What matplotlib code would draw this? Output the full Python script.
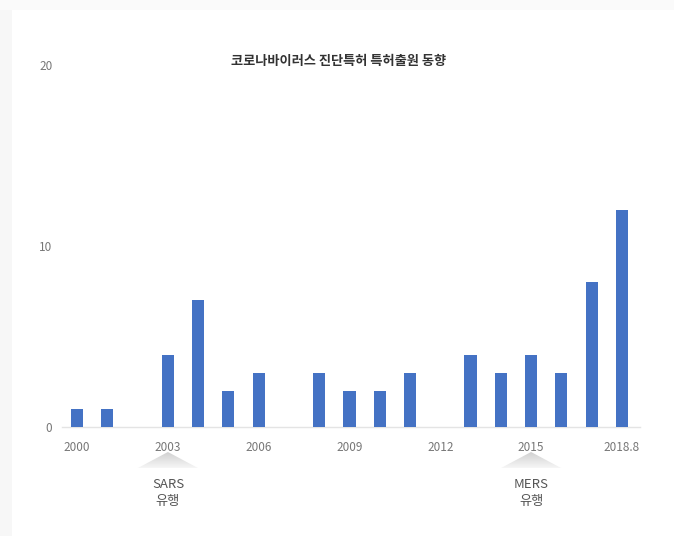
import matplotlib
matplotlib.use("Agg")
import matplotlib.pyplot as plt
import numpy as np
from matplotlib.patches import Rectangle

plt.rcParams["font.family"] = ["Noto Sans CJK KR", "DejaVu Sans"]

# data
years = list(range(2000, 2019))
counts = [1, 1, 0, 4, 7, 2, 3, 0, 3, 2, 2, 3, 0, 4, 3, 4, 3, 8, 12]
tick_years = [2000, 2003, 2006, 2009, 2012, 2015, 2018]
tick_labels = ["2000", "2003", "2006", "2009", "2012", "2015", "2018.8"]
events = [(2003, "SARS\n유행"), (2015, "MERS\n유행")]
title = "코로나바이러스 진단특허 특허출원 동향"

BAR = "#4472c4"
GREY = "#777777"

fig = plt.figure(figsize=(6.74, 5.36), dpi=100)
W, H = 674, 536

# faint page border (left and top)
fig.patches.append(Rectangle((0, 0), 12 / W, 1, transform=fig.transFigure,
                             facecolor="#f7f7f7", edgecolor="none", zorder=0))
fig.patches.append(Rectangle((0, 1 - 10 / H), 1, 10 / H, transform=fig.transFigure,
                             facecolor="#fafafa", edgecolor="none", zorder=0))

ax = fig.add_axes([62 / W, (H - 427) / H, 578 / W, 362 / H])
ax.bar(years, counts, width=0.4, color=BAR, zorder=3)

ax.set_xlim(1999.5, 2018.6)
ax.set_ylim(0, 20)
ax.set_yticks([0, 10, 20])
ax.set_yticklabels(["0", "10", "20"])
ax.set_xticks(tick_years)
ax.set_xticklabels(tick_labels)
ax.tick_params(axis="both", length=0, labelsize=8.5, colors=GREY)
ax.tick_params(axis="x", pad=10)
ax.tick_params(axis="y", pad=7)
for s in ["top", "right", "left"]:
    ax.spines[s].set_visible(False)
ax.spines["bottom"].set_color("#e4e4e4")
ax.spines["bottom"].set_linewidth(1.0)

fig.text(339 / W, 1 - 61 / H, title, ha="center", va="center",
         fontsize=9.5, fontweight="bold", color="#333333")

# grey triangles (vertical fade) + event labels below the axis
unit = 362 / 20.0  # px per data unit
y_apex = -(452 - 427) / unit
y_base = -(468 - 427) / unit
half = 30 / (578 / 19.1)
n = 16
edges = np.linspace(y_apex, y_base, n + 1)
shades = np.linspace(0.82, 0.96, n)
for yr, label in events:
    for i in range(n):
        y0, y1 = edges[i], edges[i + 1]
        f0 = (y0 - y_apex) / (y_base - y_apex)
        f1 = (y1 - y_apex) / (y_base - y_apex)
        xs = [yr - half * f0, yr + half * f0, yr + half * f1, yr - half * f1]
        ys = [y0, y0, y1, y1]
        ax.fill(xs, ys, color=str(shades[i]), lw=0, clip_on=False, zorder=2)
    ax.text(yr, -(493 - 427) / unit, label, ha="center", va="center",
            fontsize=9.5, color="#555555", linespacing=1.35, clip_on=False)

ax.set_xlim(1999.5, 2018.6)
ax.set_ylim(0, 20)

fig.savefig("out.png", dpi=100)
